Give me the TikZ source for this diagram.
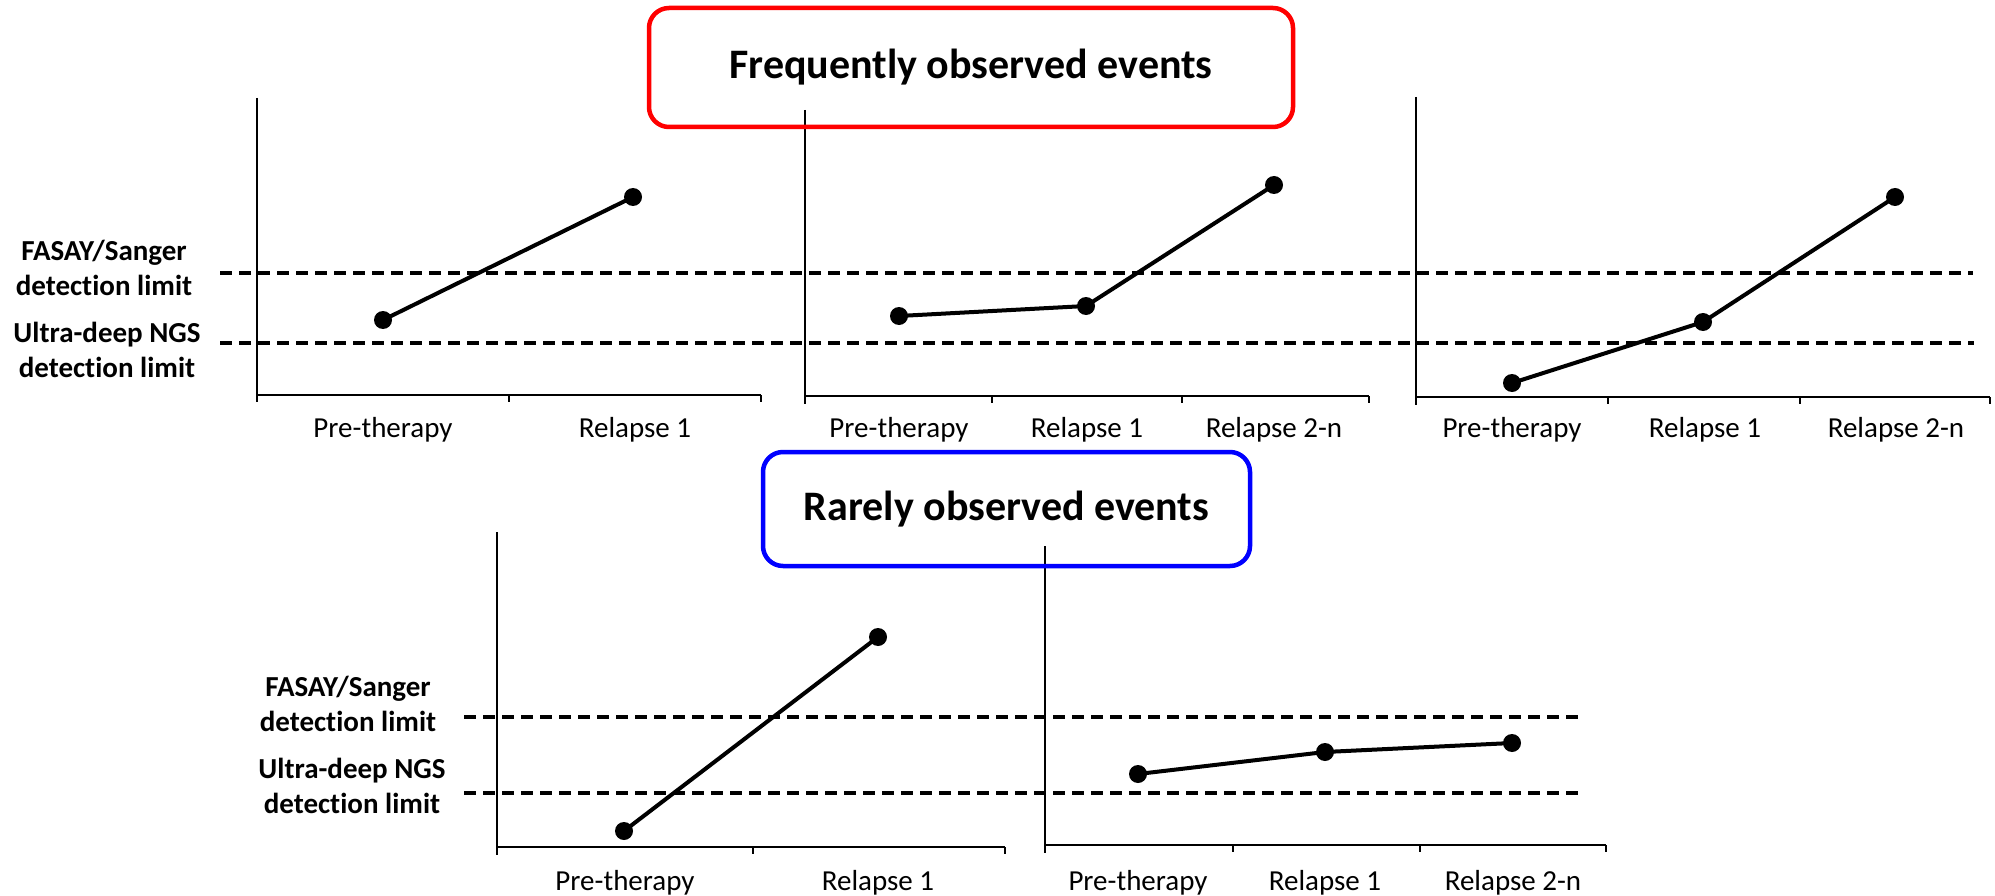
\documentclass[tikz,border=0pt]{standalone}
\usepackage{fontspec}
\setmainfont{Carlito}[Ligatures=NoCommon]
\begin{document}
\begin{tikzpicture}[x=1pt,y=-1pt,
  axis/.style={line width=2pt},
  dlim/.style={line width=3.5pt, dash pattern=on 12pt off 7pt},
  ngs/.style={line width=4.5pt, dash pattern=on 12pt off 7pt},
  dot/.style={circle, fill=black, inner sep=0pt, minimum size=18pt},
  data/.style={line width=4pt},
  ticklab/.style={font=\fontsize{29}{31}\selectfont},
  lim/.style={font=\bfseries\fontsize{29}{35}\selectfont, align=center},
  titlebox/.style={draw, line width=4.5pt, rounded corners=20pt, inner sep=0pt,
    font=\bfseries\fontsize{42}{50}\selectfont}
]
\useasboundingbox (0,0) rectangle (1995,896);

% ---------- limit labels ----------
\node[lim] (l1) at (104,268) {FASAY/Sanger\\detection limit};
\node[lim] (l2) at (107,350) {Ultra-deep NGS\\detection limit};
\node[lim] (l3) at (348,704) {FASAY/Sanger\\detection limit};
\node[lim] (l4) at (352,786) {Ultra-deep NGS\\detection limit};

% ---------- dashed limits ----------
\coordinate (f1s) at (220,273); \coordinate (f1e) at (1973,273);
\coordinate (n1s) at (220,343); \coordinate (n1e) at (1974,343);
\coordinate (f2s) at (464,717); \coordinate (f2e) at (1583,717);
\coordinate (n2s) at (464,793); \coordinate (n2e) at (1584,793);
\draw[dlim] (f1s) -- (f1e);
\draw[ngs] (n1s) -- (n1e);
\draw[dlim] (f2s) -- (f2e);
\draw[ngs] (n2s) -- (n2e);

% ---------- panel 1 ----------
\coordinate (p1t) at (257,98); \coordinate (p1o) at (257,395); \coordinate (p1r) at (761,395);
\draw[axis] (p1t) -- (257,402);
\draw[axis] (p1o) -- (p1r);
\foreach \x in {509,761} \draw[axis] (\x,395) -- (\x,402);
\node[ticklab] (p1a) at (383,430) {Pre-therapy};
\node[ticklab] (p1b) at (635,430) {Relapse 1};

% ---------- panel 2 ----------
\coordinate (p2t) at (805,110); \coordinate (p2o) at (805,396); \coordinate (p2r) at (1369,396);
\draw[axis] (p2t) -- (805,404);
\draw[axis] (p2o) -- (p2r);
\foreach \x in {992,1182,1369} \draw[axis] (\x,396) -- (\x,403);
\node[ticklab] (p2a) at (899,430) {Pre-therapy};
\node[ticklab] (p2b) at (1087,430) {Relapse 1};
\node[ticklab] (p2c) at (1274,430) {Relapse 2-n};

% ---------- panel 3 ----------
\coordinate (p3t) at (1416,97); \coordinate (p3o) at (1416,397); \coordinate (p3r) at (1990,397);
\draw[axis] (p3t) -- (1416,405);
\draw[axis] (p3o) -- (p3r);
\foreach \x in {1608,1800,1990} \draw[axis] (\x,397) -- (\x,404);
\node[ticklab] (p3a) at (1512,430) {Pre-therapy};
\node[ticklab] (p3b) at (1705,430) {Relapse 1};
\node[ticklab] (p3c) at (1896,430) {Relapse 2-n};

% ---------- panel 4 ----------
\coordinate (p4t) at (497,532); \coordinate (p4o) at (497,847); \coordinate (p4r) at (1005,847);
\draw[axis] (p4t) -- (497,855);
\draw[axis] (p4o) -- (p4r);
\foreach \x in {753,1005} \draw[axis] (\x,847) -- (\x,854);
\node[ticklab] (p4a) at (625,883) {Pre-therapy};
\node[ticklab] (p4b) at (878,883) {Relapse 1};

% ---------- panel 5 ----------
\coordinate (p5t) at (1045,546); \coordinate (p5o) at (1045,845); \coordinate (p5r) at (1606,845);
\draw[axis] (p5t) -- (1045,853);
\draw[axis] (p5o) -- (p5r);
\foreach \x in {1233,1420,1606} \draw[axis] (\x,845) -- (\x,852);
\node[ticklab] (p5a) at (1138,883) {Pre-therapy};
\node[ticklab] (p5b) at (1325,883) {Relapse 1};
\node[ticklab] (p5c) at (1513,883) {Relapse 2-n};

% ---------- data ----------
\node[dot] (a1) at (383,320) {}; \node[dot] (a2) at (633,197) {};
\node[dot] (b1) at (899,316) {}; \node[dot] (b2) at (1086,306) {}; \node[dot] (b3) at (1274,185) {};
\node[dot] (c1) at (1512,383) {}; \node[dot] (c2) at (1703,322) {}; \node[dot] (c3) at (1895,197) {};
\node[dot] (d1) at (624,831) {}; \node[dot] (d2) at (878,637) {};
\node[dot] (e1) at (1138,774) {}; \node[dot] (e2) at (1325,752) {}; \node[dot] (e3) at (1512,743) {};
\draw[data] (a1.center) -- (a2.center);
\draw[data] (b1.center) -- (b2.center) -- (b3.center);
\draw[data] (c1.center) -- (c2.center) -- (c3.center);
\draw[data] (d1.center) -- (d2.center);
\draw[data] (e1.center) -- (e2.center) -- (e3.center);

% ---------- title boxes ----------
\node[titlebox, draw={rgb,255:red,255;green,0;blue,0}, minimum width=644pt, minimum height=119pt] (freq) at (971,67.5) {Frequently observed events};
\node[titlebox, draw={rgb,255:red,0;green,0;blue,255}, minimum width=487pt, minimum height=114pt] (rare) at (1006.5,509) {Rarely observed events};
\end{tikzpicture}
\end{document}
